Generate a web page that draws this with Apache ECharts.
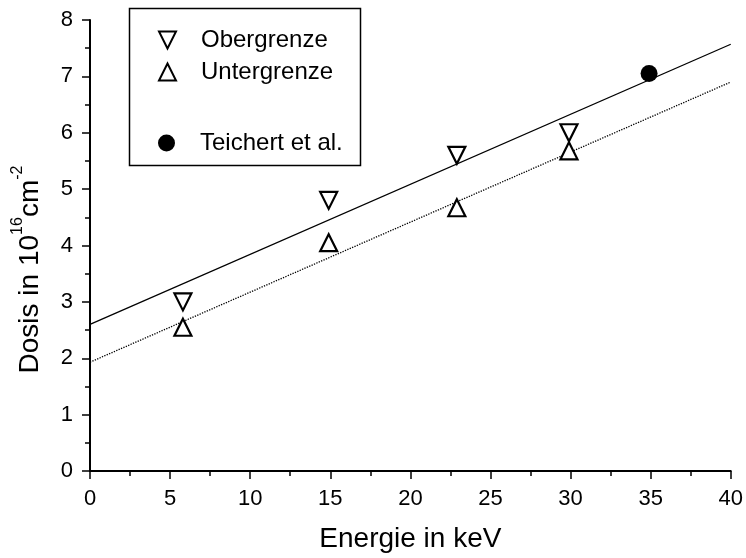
<!DOCTYPE html>
<html>
<head>
<meta charset="utf-8">
<script src="https://cdn.jsdelivr.net/npm/echarts@6/dist/echarts.min.js"></script>
<style>html,body{margin:0;padding:0;background:#fff}#c{width:746px;height:558px}</style>
</head>
<body>
<div id="c"></div>
<script>
// ---- data ----
const energy = [5.8, 14.9, 22.9, 29.9];
const obergrenze = [3.0, 4.8, 5.6, 6.0];
const untergrenze = [2.55, 4.05, 4.67, 5.68];
const teichertEnergy = [34.9];
const teichertDose = [7.05];
const fitX = [0, 40];
const fitUpper = [2.6, 7.57];
const fitLower = [1.93, 6.9];
const xTicks = [0, 5, 10, 15, 20, 25, 30, 35, 40];
const yTicks = [0, 1, 2, 3, 4, 5, 6, 7, 8];

const FONT = "'Liberation Sans', Arial, Helvetica, sans-serif";
const zip = (xs, ys) => xs.map((x, i) => [x, ys[i]]);
const DOWN_TRI = 'path://M0,0L20,0L10,20Z';
const UP_TRI = 'path://M10,0L20,20L0,20Z';

const chart = echarts.init(document.getElementById('c'));
chart.setOption({
  animation: false,
  backgroundColor: '#fff',
  textStyle: { fontFamily: FONT, color: '#000' },
  grid: { left: 90, right: 14, top: 20, bottom: 86 },
  xAxis: {
    type: 'value', min: xTicks[0], max: xTicks[xTicks.length - 1], interval: 5,
    name: 'Energie in keV', nameLocation: 'middle', nameGap: 54,
    nameTextStyle: { fontSize: 28, fontFamily: FONT, color: '#000' },
    axisLine: { onZero: false, lineStyle: { color: '#000', width: 2 } },
    axisTick: { length: 8, lineStyle: { color: '#000', width: 1.5 } },
    minorTick: { show: true, splitNumber: 2, length: 5, lineStyle: { color: '#000', width: 1.5 } },
    axisLabel: { fontSize: 22, color: '#000', margin: 17, fontFamily: FONT },
    splitLine: { show: false }
  },
  yAxis: {
    type: 'value', min: yTicks[0], max: yTicks[yTicks.length - 1], interval: 1,
    name: '{a|Dosis in 10}{s|16}{a|cm}{s|-2}', nameLocation: 'middle', nameGap: 46,
    nameTextStyle: {
      fontFamily: FONT, color: '#000', padding: [0, 48, 0, 0],
      rich: {
        a: { fontSize: 28, lineHeight: 34, fontFamily: FONT, color: '#000', verticalAlign: 'bottom' },
        s: { fontSize: 16, lineHeight: 34, fontFamily: FONT, color: '#000', verticalAlign: 'top' }
      }
    },
    axisLine: { onZero: false, lineStyle: { color: '#000', width: 2 } },
    axisTick: { length: 8, lineStyle: { color: '#000', width: 1.5 } },
    minorTick: { show: true, splitNumber: 2, length: 5, lineStyle: { color: '#000', width: 1.5 } },
    axisLabel: { fontSize: 22, color: '#000', margin: 17, fontFamily: FONT },
    splitLine: { show: false }
  },
  legend: [
    {
      data: [
        { name: 'Obergrenze', icon: DOWN_TRI },
        { name: 'Untergrenze', icon: UP_TRI }
      ],
      orient: 'vertical', left: 153, top: 23,
      itemWidth: 17, itemHeight: 17, itemGap: 8,
      textStyle: { fontSize: 24, color: '#000', fontFamily: FONT, padding: [0, 0, 0, 20] },
      selectedMode: false
    },
    {
      data: ['Teichert et al.'], orient: 'vertical', left: 153, top: 126,
      itemWidth: 17, itemHeight: 17,
      textStyle: { fontSize: 24, color: '#000', fontFamily: FONT, padding: [0, 0, 0, 20] },
      selectedMode: false
    }
  ],
  graphic: [{
    type: 'rect', left: 127, top: 6, z: 100, silent: true,
    shape: { width: 231, height: 157 },
    style: { fill: 'none', stroke: '#000', lineWidth: 1.5 }
  }],
  series: [
    {
      name: 'fitUpper', type: 'line', data: zip(fitX, fitUpper), showSymbol: false,
      lineStyle: { color: '#000', width: 1.3, type: 'solid' }, z: 1
    },
    {
      name: 'fitLower', type: 'line', data: zip(fitX, fitLower), showSymbol: false,
      lineStyle: { color: '#000', width: 1.3, type: 'dotted' }, z: 1
    },
    {
      name: 'Obergrenze', type: 'scatter', data: zip(energy, obergrenze),
      symbol: DOWN_TRI, symbolSize: 17,
      itemStyle: { color: '#fff', borderColor: '#000', borderWidth: 2.2, opacity: 1 }, z: 3
    },
    {
      name: 'Untergrenze', type: 'scatter', data: zip(energy, untergrenze),
      symbol: UP_TRI, symbolSize: 17,
      itemStyle: { color: '#fff', borderColor: '#000', borderWidth: 2.2, opacity: 1 }, z: 3
    },
    {
      name: 'Teichert et al.', type: 'scatter', data: zip(teichertEnergy, teichertDose),
      symbol: 'circle', symbolSize: 17,
      itemStyle: { color: '#000', opacity: 1 }, z: 3
    }
  ]
});
</script>
</body>
</html>
